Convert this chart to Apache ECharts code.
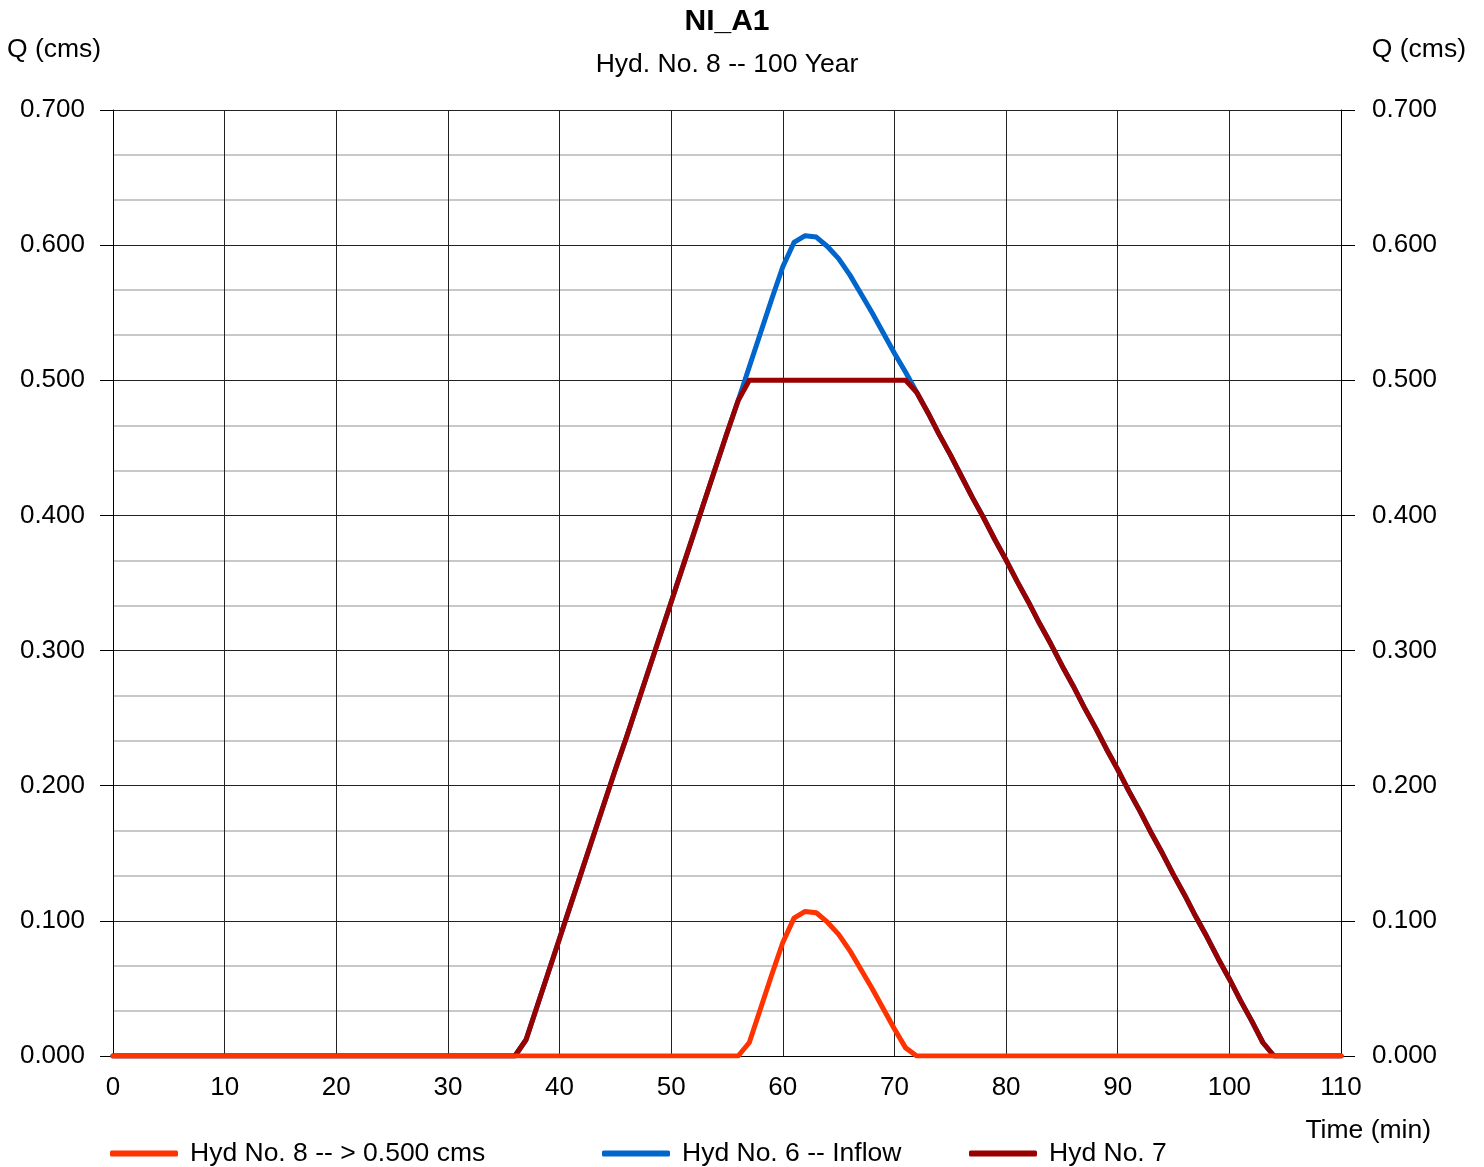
<!DOCTYPE html>
<html>
<head>
<meta charset="utf-8">
<title>NI_A1</title>
<script src="https://cdn.jsdelivr.net/npm/echarts@6/dist/echarts.min.js"></script>
<style>
  html, body { margin: 0; padding: 0; background: #ffffff; }
  #chart { width: 1484px; height: 1167px; }
</style>
</head>
<body>
<div id="chart"></div>
<script>
// Hydrograph values, one per minute from 0 to 110 min (Q in cms)
const minutes = [];
for (let t = 0; t <= 110; t++) minutes.push(t);

// Hyd No. 6 -- Inflow
const inflow = [
  0,0,0,0,0,0,0,0,0,0,                                   // 0-9
  0,0,0,0,0,0,0,0,0,0,                                   // 10-19
  0,0,0,0,0,0,0,0,0,0,                                   // 20-29
  0,0,0,0,0,0,0,0.012,0.037,0.062,                       // 30-39
  0.087,0.112,0.137,0.162,0.187,0.212,0.236,0.261,0.286,0.311, // 40-49
  0.336,0.361,0.386,0.411,0.436,0.461,0.485,0.510,0.535,0.560, // 50-59
  0.584,0.602,0.607,0.606,0.599,0.590,0.578,0.564,0.550,0.535, // 60-69
  0.520,0.506,0.491,0.476,0.460,0.445,0.429,0.413,0.398,0.382, // 70-79
  0.367,0.351,0.336,0.320,0.305,0.289,0.274,0.258,0.243,0.227, // 80-89
  0.212,0.196,0.181,0.165,0.150,0.134,0.119,0.103,0.088,0.072, // 90-99
  0.057,0.041,0.026,0.010,0,0,0,0,0,0,                   // 100-109
  0                                                      // 110
];

// Hyd No. 7
const hyd7 = [
  0,0,0,0,0,0,0,0,0,0,
  0,0,0,0,0,0,0,0,0,0,
  0,0,0,0,0,0,0,0,0,0,
  0,0,0,0,0,0,0,0.012,0.037,0.062,
  0.087,0.112,0.137,0.162,0.187,0.212,0.236,0.261,0.286,0.311,
  0.336,0.361,0.386,0.411,0.436,0.461,0.485,0.500,0.500,0.500,
  0.500,0.500,0.500,0.500,0.500,0.500,0.500,0.500,0.500,0.500,
  0.500,0.500,0.491,0.476,0.460,0.445,0.429,0.413,0.398,0.382,
  0.367,0.351,0.336,0.320,0.305,0.289,0.274,0.258,0.243,0.227,
  0.212,0.196,0.181,0.165,0.150,0.134,0.119,0.103,0.088,0.072,
  0.057,0.041,0.026,0.010,0,0,0,0,0,0,
  0
];

// Hyd No. 8 -- > 0.500 cms
const hyd8 = [
  0,0,0,0,0,0,0,0,0,0,
  0,0,0,0,0,0,0,0,0,0,
  0,0,0,0,0,0,0,0,0,0,
  0,0,0,0,0,0,0,0,0,0,
  0,0,0,0,0,0,0,0,0,0,
  0,0,0,0,0,0,0,0.010,0.035,0.060,
  0.084,0.102,0.107,0.106,0.099,0.090,0.078,0.064,0.050,0.035,
  0.020,0.006,0,0,0,0,0,0,0,0,
  0,0,0,0,0,0,0,0,0,0,
  0,0,0,0,0,0,0,0,0,0,
  0,0,0,0,0,0,0,0,0,0,
  0
];

const names = {
  h8: 'Hyd No. 8 -- > 0.500 cms',
  h6: 'Hyd No. 6 -- Inflow',
  h7: 'Hyd No. 7'
};
const colors = { h8: '#ff3300', h6: '#0066cc', h7: '#990000' };

const pairs = vals => minutes.map((t, i) => [t, vals[i]]);

const FONT = '"Liberation Sans", Arial, sans-serif';
const TXT = { fontFamily: FONT, fontSize: 26, color: '#000' };

const chart = echarts.init(document.getElementById('chart'), null, { renderer: 'canvas' });

const lineSeries = (key, vals, z) => ({
  name: names[key],
  type: 'line',
  data: pairs(vals),
  symbol: 'none',
  smooth: false,
  z: z,
  lineStyle: { color: colors[key], width: 5, cap: 'round', join: 'round' },
  itemStyle: { color: colors[key] },
  emphasis: { disabled: true },
  animation: false
});

const legendItem = (key, left) => ({
  data: [{ name: names[key], icon: 'roundRect' }],
  left: left,
  top: 1140,
  padding: 0,
  itemWidth: 68,
  itemHeight: 6,
  textStyle: Object.assign({}, TXT, { fontSize: 26.5, padding: [0, 0, 0, 7] }),
  selectedMode: false
});

chart.setOption({
  backgroundColor: '#ffffff',
  animation: false,
  grid: { left: 113, right: 143, top: 110, bottom: 111, containLabel: false },
  graphic: [
    { type: 'text', x: 727, y: 22, style: { text: 'NI_A1', font: 'bold 30px ' + FONT, fill: '#000', textAlign: 'center', textVerticalAlign: 'middle' } },
    { type: 'text', x: 727, y: 65, style: { text: 'Hyd. No. 8 -- 100 Year', font: '26.5px ' + FONT, fill: '#000', textAlign: 'center', textVerticalAlign: 'middle' } },
    { type: 'text', x: 7, y: 50, style: { text: 'Q (cms)', font: '26.5px ' + FONT, fill: '#000', textAlign: 'left', textVerticalAlign: 'middle' } },
    { type: 'text', x: 1466, y: 50, style: { text: 'Q (cms)', font: '26.5px ' + FONT, fill: '#000', textAlign: 'right', textVerticalAlign: 'middle' } },
    { type: 'text', x: 1431, y: 1131, style: { text: 'Time (min)', font: '26.5px ' + FONT, fill: '#000', textAlign: 'right', textVerticalAlign: 'middle' } }
  ],
  legend: [legendItem('h8', 110), legendItem('h6', 602), legendItem('h7', 969)],
  xAxis: {
    type: 'value',
    min: 0,
    max: 110,
    interval: 10,
    axisLine: { show: true, lineStyle: { color: '#000', width: 1 } },
    axisTick: { show: false },
    axisLabel: Object.assign({}, TXT, { margin: 19 }),
    splitLine: { show: true, lineStyle: { color: '#222', width: 1 } }
  },
  yAxis: [
    {
      type: 'value',
      position: 'left',
      min: 0,
      max: 0.7,
      interval: 0.1,
      axisLine: { show: true, lineStyle: { color: '#000', width: 1 } },
      axisTick: { show: true, inside: false, length: 13, lineStyle: { color: '#000', width: 1 } },
      axisLabel: Object.assign({}, TXT, {
        margin: 28,
        formatter: v => v.toFixed(3)
      }),
      splitLine: { show: true, lineStyle: { color: '#222', width: 1 } },
      minorTick: { show: false, splitNumber: 3 },
      minorSplitLine: { show: true, lineStyle: { color: '#c8c8c8', width: 2 } }
    },
    {
      type: 'value',
      position: 'right',
      min: 0,
      max: 0.7,
      interval: 0.1,
      axisLine: { show: true, lineStyle: { color: '#000', width: 1 } },
      axisTick: { show: true, inside: false, length: 14, lineStyle: { color: '#000', width: 1 } },
      axisLabel: Object.assign({}, TXT, {
        margin: 31,
        formatter: v => v.toFixed(3)
      }),
      splitLine: { show: false }
    }
  ],
  series: [
    lineSeries('h6', inflow, 2),
    lineSeries('h7', hyd7, 3),
    lineSeries('h8', hyd8, 4)
  ]
});
</script>
</body>
</html>
